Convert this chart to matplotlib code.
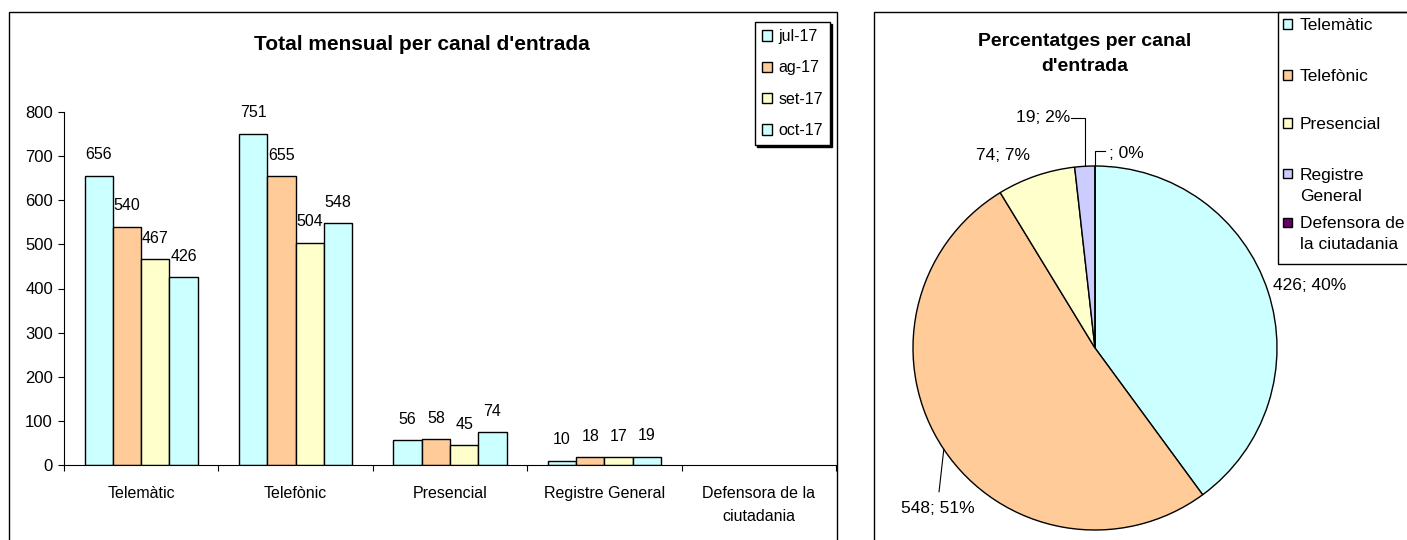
import numpy as np
import matplotlib
matplotlib.use('Agg')
import matplotlib.pyplot as plt
from matplotlib.patches import Rectangle, Patch

plt.rcParams['font.family'] = ['Liberation Sans', 'DejaVu Sans']

# dades
canals = ['Telemàtic', 'Telefònic', 'Presencial', 'Registre General', 'Defensora de la\nciutadania']
mesos = ['jul-17', 'ag-17', 'set-17', 'oct-17']
jul17 = [656, 751, 56, 10, None]
ag17 = [540, 655, 58, 18, None]
set17 = [467, 504, 45, 17, None]
oct17 = [426, 548, 74, 19, None]
colors_mes = ['#CCFFFF', '#FFCC99', '#FFFFCC', '#CCFFFF']

pie_labels = ['Telemàtic', 'Telefònic', 'Presencial', 'Registre\nGeneral', 'Defensora de\nla ciutadania']
pie_values = oct17
pie_colors = ['#CCFFFF', '#FFCC99', '#FFFFCC', '#CCCCFF', '#660066']

W, H = 1407, 540


def fx(x):
    return x / W


def fy(y):
    return 1 - y / H


fig = plt.figure(figsize=(W / 100, H / 100), dpi=100)
fig.patch.set_facecolor('white')

# marcs
fig.add_artist(Rectangle((fx(9), fy(560)), fx(837) - fx(9), fy(12) - fy(560),
                         transform=fig.transFigure, fill=False, lw=1, ec='black'))
fig.add_artist(Rectangle((fx(874), fy(560)), fx(1430) - fx(874), fy(12) - fy(560),
                         transform=fig.transFigure, fill=False, lw=1, ec='black'))

# ---- grafic de barres
ax = fig.add_axes([fx(64), fy(465), fx(836) - fx(64), fy(112) - fy(465)])
series = [jul17, ag17, set17, oct17]
bw = 0.183
x = np.arange(len(canals))
for i, s in enumerate(series):
    for j, v in enumerate(s):
        if v is None:
            continue
        xp = x[j] + (i - 1.5) * bw
        ax.bar(xp, v, bw, color=colors_mes[i], edgecolor='black', linewidth=1)
        ax.annotate(str(v), (xp, v), xytext=(0, 15), textcoords='offset points',
                    ha='center', va='center', fontsize=11.5)

ax.set_xlim(-0.5, len(canals) - 0.5)
ax.set_ylim(0, 800)
ax.set_yticks(range(0, 801, 100))
ax.set_xticks(np.arange(len(canals) + 1) - 0.5)
ax.set_xticklabels([])
ax.set_xticks(x, minor=True)
ax.set_xticklabels(canals, minor=True, linespacing=1.7)
ax.tick_params(axis='x', which='major', length=4, direction='out', width=0.8)
ax.tick_params(axis='x', which='minor', length=0, pad=15, labelsize=11.5)
ax.tick_params(axis='y', length=4, width=0.8, pad=4, labelsize=12)
for sp in ['top', 'right']:
    ax.spines[sp].set_visible(False)
ax.patch.set_alpha(0)

fig.text(fx(422), fy(45), "Total mensual per canal d'entrada", ha='center', va='center',
         fontsize=15, fontweight='bold')

handles = [Patch(facecolor=c, edgecolor='black', lw=1) for c in colors_mes]
leg = fig.legend(handles, mesos, loc='upper left', bbox_to_anchor=(fx(755), fy(22)),
                 borderaxespad=0, fontsize=11.5, handlelength=0.6, handleheight=0.6,
                 handletextpad=0.4, labelspacing=1.02, borderpad=0.45, fancybox=False,
                 shadow={'color': 'black', 'alpha': 1, 'ox': 1.5, 'oy': -1.5})
leg.get_frame().set_edgecolor('black')
leg.get_frame().set_linewidth(1)

# ---- grafic de sectors
R = 182
cx, cy = 1095, 348
pax = fig.add_axes([fx(cx - R), fy(cy + R), fx(2 * R), (2 * R) / H])
vals = [0 if v is None else v for v in pie_values]
total = sum(vals)
wedges, _ = pax.pie(vals, colors=pie_colors, startangle=90, counterclock=False,
                    wedgeprops=dict(edgecolor='black', linewidth=1))
pax.set_xlim(-1, 1)
pax.set_ylim(-1, 1)

# posicions de les etiquetes i linies guia
label_pos = [(1.18, 0.343), (-0.865, -0.882), (-0.503, 1.06), (-0.286, 1.264), (0.174, 1.071)]
leaders = {1: [(-0.857, -0.79)], 3: [(None, 1.264), (-0.134, 1.264)], 4: [(None, 1.081), (0.055, 1.081)]}

cum = np.cumsum([0] + vals)
for i, v in enumerate(pie_values):
    pct = round(100 * vals[i] / total)
    txt = f"{'' if v is None else v}; {pct}%"
    pax.text(label_pos[i][0], label_pos[i][1], txt, ha='center', va='center', fontsize=12.5)
    mid = (cum[i] + cum[i + 1]) / 2 / total * 2 * np.pi
    ex, ey = np.sin(mid), np.cos(mid)
    if i in leaders:
        xs = [ex] + [ex if p[0] is None else p[0] for p in leaders[i]]
        ys = [ey] + [p[1] for p in leaders[i]]
        pax.plot(xs, ys, color='black', lw=0.8, clip_on=False)

fig.text(fx(1085), fy(54), "Percentatges per canal\nd'entrada", ha='center', va='center',
         fontsize=14, fontweight='bold', linespacing=1.6)

# llegenda del sector
fig.add_artist(Rectangle((fx(1278), fy(264)), fx(1430) - fx(1278), fy(12) - fy(264),
                         transform=fig.transFigure, fill=False, lw=1, ec='black'))
ys_leg = [24, 75, 123, 174, 222]
for lab, c, yl in zip(pie_labels, pie_colors, ys_leg):
    fig.add_artist(Rectangle((fx(1283), fy(yl + 4.5)), fx(9), 9 / H, transform=fig.transFigure,
                             fc=c, ec='black', lw=1))
    fig.text(fx(1300), fy(yl - 6), lab, ha='left', va='top', fontsize=12.5, linespacing=1.5)

fig.savefig('out.png', dpi=100)
